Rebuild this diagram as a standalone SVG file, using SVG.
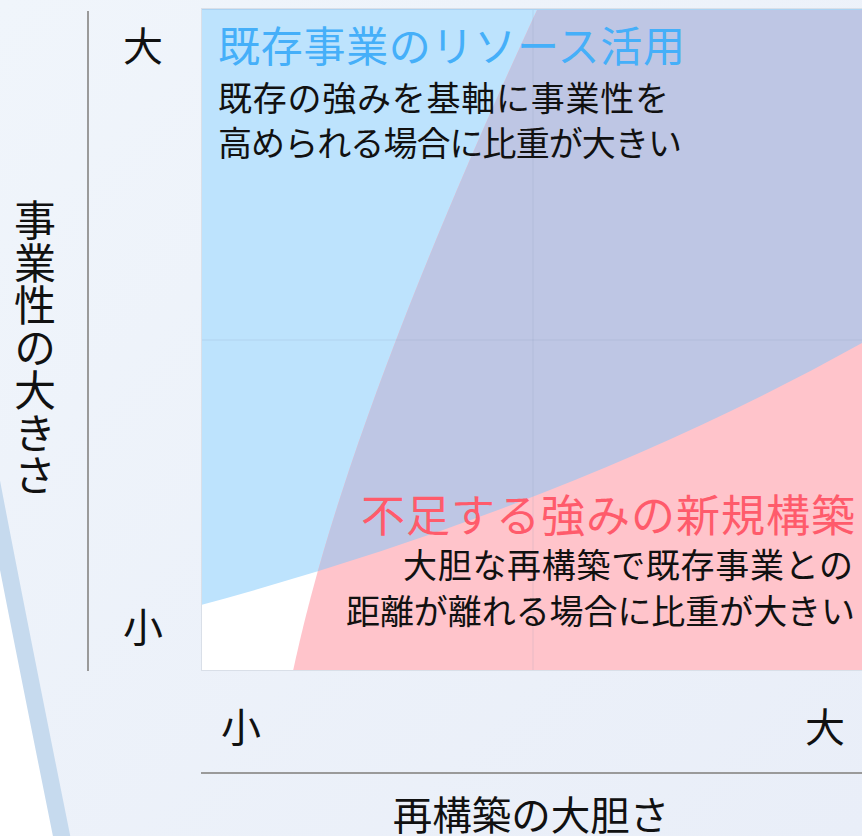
<svg xmlns="http://www.w3.org/2000/svg" width="862" height="836" viewBox="0 0 862 836">
  <defs>
    <linearGradient id="bg" x1="0" y1="0" x2="1" y2="1">
      <stop offset="0" stop-color="#f0f5fb"/>
      <stop offset="1" stop-color="#e9eef8"/>
    </linearGradient>
    <clipPath id="chartClip">
      <rect x="201" y="8" width="661" height="663"/>
    </clipPath>
    <clipPath id="blueClip">
      <path d="M201 8 L862 8 L862 343 Q574 504 201 605 Z"/>
    </clipPath>
    <style>
      .t { font-family: "Noto Sans CJK JP", "Noto Sans", sans-serif; }
      .axis { stroke: #9a9a9a; stroke-width: 2; fill: none; }
      .lbl { font-size: 40px; fill: #111; text-anchor: middle; }
      .body { font-size: 34px; fill: #111; }
      .grid { stroke: #7d8fb0; stroke-opacity: 0.13; stroke-width: 1.5; fill: none; }
    </style>
  </defs>

  <g id="background">
    <rect x="0" y="0" width="862" height="836" fill="url(#bg)"/>
    <path d="M-40 380 L-20 420 Q2 540 64 848 L-40 848 Z" fill="#ffffff"/>
    <path d="M-20 420 Q2 540 64 848" fill="none" stroke="#c6daee" stroke-width="17"/>
  </g>

  <g id="chart" clip-path="url(#chartClip)">
    <rect x="201" y="8" width="661" height="663" fill="#ffffff"/>
    <path id="blue-area" d="M201 8 L862 8 L862 343 Q574 504 201 605 Z" fill="#bde3fd"/>
    <path id="pink-area" d="M537 10 L862 10 L862 671 L293 671 C310.6 591 353 408 537 10 Z" fill="#ffc4cb"/>
    <path id="overlap-area" clip-path="url(#blueClip)" d="M537 10 L862 10 L862 671 L293 671 C310.6 591 353 408 537 10 Z" fill="#bec6e4"/>
    <line class="grid" x1="533" y1="8" x2="533" y2="671"/>
    <line class="grid" x1="201" y1="340" x2="862" y2="340"/>
    <line x1="201" y1="9" x2="862" y2="9" stroke="#abd3f3" stroke-width="2"/>
    <rect x="201.5" y="8.5" width="670" height="662" fill="none" stroke="#d9dfe8" stroke-width="1"/>
  </g>

  <g id="axes">
    <line class="axis" x1="88" y1="11" x2="88" y2="671"/>
    <line class="axis" x1="201" y1="773" x2="862" y2="773"/>
  </g>

  <g id="axis-labels" class="t">
    <text class="lbl" x="143" y="61">大</text>
    <text class="lbl" x="143" y="642">小</text>
    <text class="lbl" x="241" y="742">小</text>
    <text class="lbl" x="825" y="742">大</text>
    <text class="t" x="531" y="830" font-size="39.5" fill="#111" text-anchor="middle">再構築の大胆さ</text>
    <text class="t" x="35" y="199.5" font-size="42" fill="#111" style="writing-mode: vertical-rl; letter-spacing: 0.5px;">事業性の大きさ</text>
  </g>

  <g id="node-existing" class="t">
    <text x="218" y="62" font-size="42" fill="#45aff9" textLength="467" lengthAdjust="spacing">既存事業のリソース活用</text>
    <text class="body" x="218" y="111" textLength="451" lengthAdjust="spacing">既存の強みを基軸に事業性を</text>
    <text class="body" x="218" y="156" textLength="464" lengthAdjust="spacing">高められる場合に比重が大きい</text>
  </g>

  <g id="node-new" class="t">
    <text x="361" y="532" font-size="44" fill="#ff5b6b" textLength="494" lengthAdjust="spacing">不足する強みの新規構築</text>
    <text class="body" x="403" y="578" textLength="450" lengthAdjust="spacing">大胆な再構築で既存事業との</text>
    <text class="body" x="346" y="624" textLength="509" lengthAdjust="spacing">距離が離れる場合に比重が大きい</text>
  </g>
</svg>
